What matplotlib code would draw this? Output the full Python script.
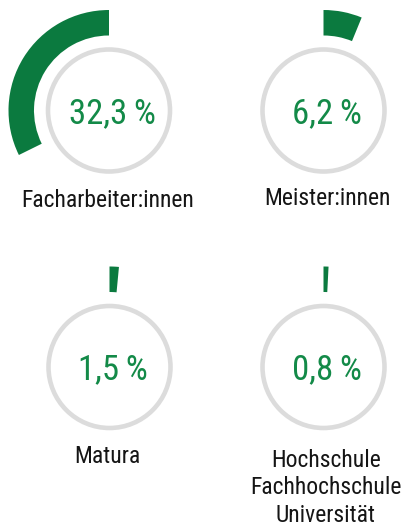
import matplotlib
matplotlib.use("Agg")
import matplotlib.pyplot as plt
from matplotlib.patches import Wedge, Circle

# data
labels = ["Facharbeiter:innen", "Meister:innen", "Matura", "Hochschule\nFachhochschule\nUniversität"]
values = [32.3, 6.2, 1.5, 0.8]
value_texts = ["32,3\u2009%", "6,2\u2009%", "1,5\u2009%", "0,8\u2009%"]
clockwise = [False, True, True, True]

W, H = 402, 528
green = "#0b7a3f"
text_green = "#138a48"
ring_gray = "#dcdcdc"

# layout (pixels from top-left)
centers = [(109, 110.5), (323.5, 110.5), (109.5, 367), (323.5, 367)]
label_x = [107.5, 327, 107, 326]
label_base = [207, 205, 463, 467]
line_step = 27.5

plt.rcParams["font.family"] = ["Roboto Condensed", "DejaVu Sans"]

fig = plt.figure(figsize=(W / 100, H / 100), dpi=100)
ax = fig.add_axes([0, 0, 1, 1])
ax.set_xlim(0, W)
ax.set_ylim(0, H)
ax.set_aspect("equal")
ax.axis("off")

for i in range(len(values)):
    cx, cy = centers[i][0], H - centers[i][1]
    span = values[i] * 3.6
    if clockwise[i]:
        t1, t2 = 90 - span, 90
    else:
        t1, t2 = 90, 90 + span
    ax.add_patch(Wedge((cx, cy), 100.5, t1, t2, width=25.5, facecolor=green, edgecolor="none"))
    ax.add_patch(Circle((cx, cy), 61, facecolor="none", edgecolor=ring_gray, linewidth=3.3))
    ax.text(cx + 3, cy - 12.5, value_texts[i], ha="center", va="baseline",
            fontsize=25, color=text_green)
    for j, line in enumerate(labels[i].split("\n")):
        ax.text(label_x[i], H - (label_base[i] + j * line_step), line,
                ha="center", va="baseline", fontsize=17, color="#151515")

fig.savefig("out.png", dpi=100)
